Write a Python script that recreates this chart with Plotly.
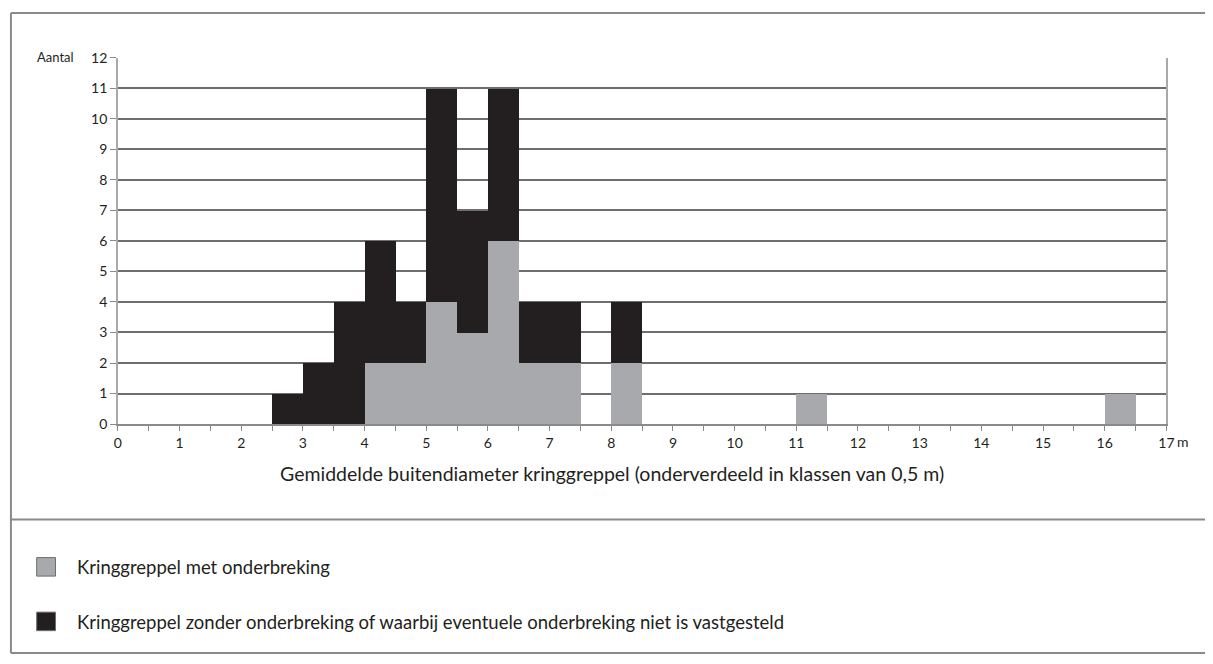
import plotly.graph_objects as go

# Histogram of mean outer diameter of ring ditches, classes of 0.5 m
bin_width = 0.5

met_bins = [4.0, 4.5, 5.0, 5.5, 6.0, 6.5, 7.0, 8.0, 11.0, 16.0]
met_counts = [2, 2, 4, 3, 6, 2, 2, 2, 1, 1]

zonder_bins = [2.5, 3.0, 3.5, 4.0, 4.5, 5.0, 5.5, 6.0, 6.5, 7.0, 8.0]
zonder_counts = [1, 2, 4, 4, 2, 7, 4, 5, 2, 2, 2]

x_ticks = list(range(0, 18))
x_ticktext = [str(v) for v in x_ticks]
y_ticks = list(range(0, 13))

name_met = "Kringgreppel met onderbreking"
name_zonder = ("Kringgreppel zonder onderbreking of waarbij eventuele "
               "onderbreking niet is vastgesteld")
x_title = ("Gemiddelde buitendiameter kringgreppel "
           "(onderverdeeld in klassen van 0,5 m)")
y_title = "Aantal"

GRAY = "#a7a9ac"
BLACK = "#231f20"
TEXT = "#231f20"
FRAME = "#8a8a8d"
FONT = "Lato, 'Open Sans', sans-serif"

W, H = 1213, 664


def fx(p):
    return p / W


def fy(p):
    return 1 - p / H


fig = go.Figure()
fig.add_trace(go.Bar(
    x=[b + bin_width / 2 for b in met_bins], y=met_counts, width=bin_width,
    marker=dict(color=GRAY, line=dict(width=0)), name=name_met,
    showlegend=False,
))
fig.add_trace(go.Bar(
    x=[b + bin_width / 2 for b in zonder_bins], y=zonder_counts,
    width=bin_width, marker=dict(color=BLACK, line=dict(width=0)),
    name=name_zonder, showlegend=False,
))

shapes = [
    # outer frame and divider
    dict(type="line", xref="paper", yref="paper", x0=fx(7), x1=fx(7),
         y0=fy(4), y1=fy(661), line=dict(color=FRAME, width=2)),
    dict(type="line", xref="paper", yref="paper", x0=fx(7), x1=1,
         y0=fy(4), y1=fy(4), line=dict(color=FRAME, width=2)),
    dict(type="line", xref="paper", yref="paper", x0=fx(7), x1=1,
         y0=fy(661), y1=fy(661), line=dict(color=FRAME, width=2)),
    dict(type="line", xref="paper", yref="paper", x0=fx(7), x1=1,
         y0=fy(524), y1=fy(524), line=dict(color=FRAME, width=2)),
    # legend swatches
    dict(type="rect", xref="paper", yref="paper", x0=fx(33), x1=fx(52),
         y0=fy(582), y1=fy(563), fillcolor=GRAY,
         line=dict(color="#6d6e71", width=1)),
    dict(type="rect", xref="paper", yref="paper", x0=fx(33), x1=fx(52),
         y0=fy(638), y1=fy(619), fillcolor=BLACK,
         line=dict(color="#6d6e71", width=1)),
]

annotations = [
    dict(text=y_title, xref="paper", yref="paper", x=fx(73), y=fy(49),
         xanchor="right", yanchor="middle", showarrow=False,
         font=dict(size=13, color=TEXT, family=FONT)),
    dict(text="m", xref="x", yref="paper", x=17, y=fy(444),
         xanchor="left", yanchor="middle", xshift=9, showarrow=False,
         font=dict(size=14, color=TEXT, family=FONT)),
    dict(text=x_title, xref="paper", yref="paper", x=fx(614), y=fy(477),
         xanchor="center", yanchor="middle", showarrow=False,
         font=dict(size=19.5, color=TEXT, family=FONT)),
    dict(text=name_met, xref="paper", yref="paper", x=fx(72), y=fy(573),
         xanchor="left", yanchor="middle", showarrow=False,
         font=dict(size=18.5, color=TEXT, family=FONT)),
    dict(text=name_zonder, xref="paper", yref="paper", x=fx(72), y=fy(629),
         xanchor="left", yanchor="middle", showarrow=False,
         font=dict(size=18.5, color=TEXT, family=FONT)),
]

fig.update_layout(
    width=W, height=H,
    margin=dict(l=0, r=0, t=0, b=0),
    paper_bgcolor="white", plot_bgcolor="white",
    barmode="stack", bargap=0,
    font=dict(family=FONT, color=TEXT),
    shapes=shapes, annotations=annotations,
    xaxis=dict(
        domain=[fx(115), fx(1174)], range=[0, 17],
        tickmode="array", tickvals=x_ticks, ticktext=x_ticktext,
        ticks="outside", ticklen=5, tickcolor="#8a8a8d", tickwidth=1,
        minor=dict(dtick=0.5, ticks="outside", ticklen=5,
                   tickcolor="#8a8a8d", tickwidth=1, showgrid=False),
        showgrid=False, zeroline=False,
        showline=True, linecolor="#8a8a8d", linewidth=1.5,
        tickfont=dict(size=14, color=TEXT, family=FONT),
        fixedrange=True,
    ),
    yaxis=dict(
        domain=[fy(426), fy(50)], range=[0, 12],
        tickmode="array", tickvals=y_ticks,
        ticks="outside", ticklen=6, tickcolor="#8a8a8d", tickwidth=1,
        showgrid=True, gridcolor="#6d6e71", gridwidth=1.5,
        zeroline=False,
        showline=True, linecolor="#a7a9ac", linewidth=1.5, mirror=True,
        tickfont=dict(size=14, color=TEXT, family=FONT),
        fixedrange=True,
    ),
)

fig.write_html("out.html")
